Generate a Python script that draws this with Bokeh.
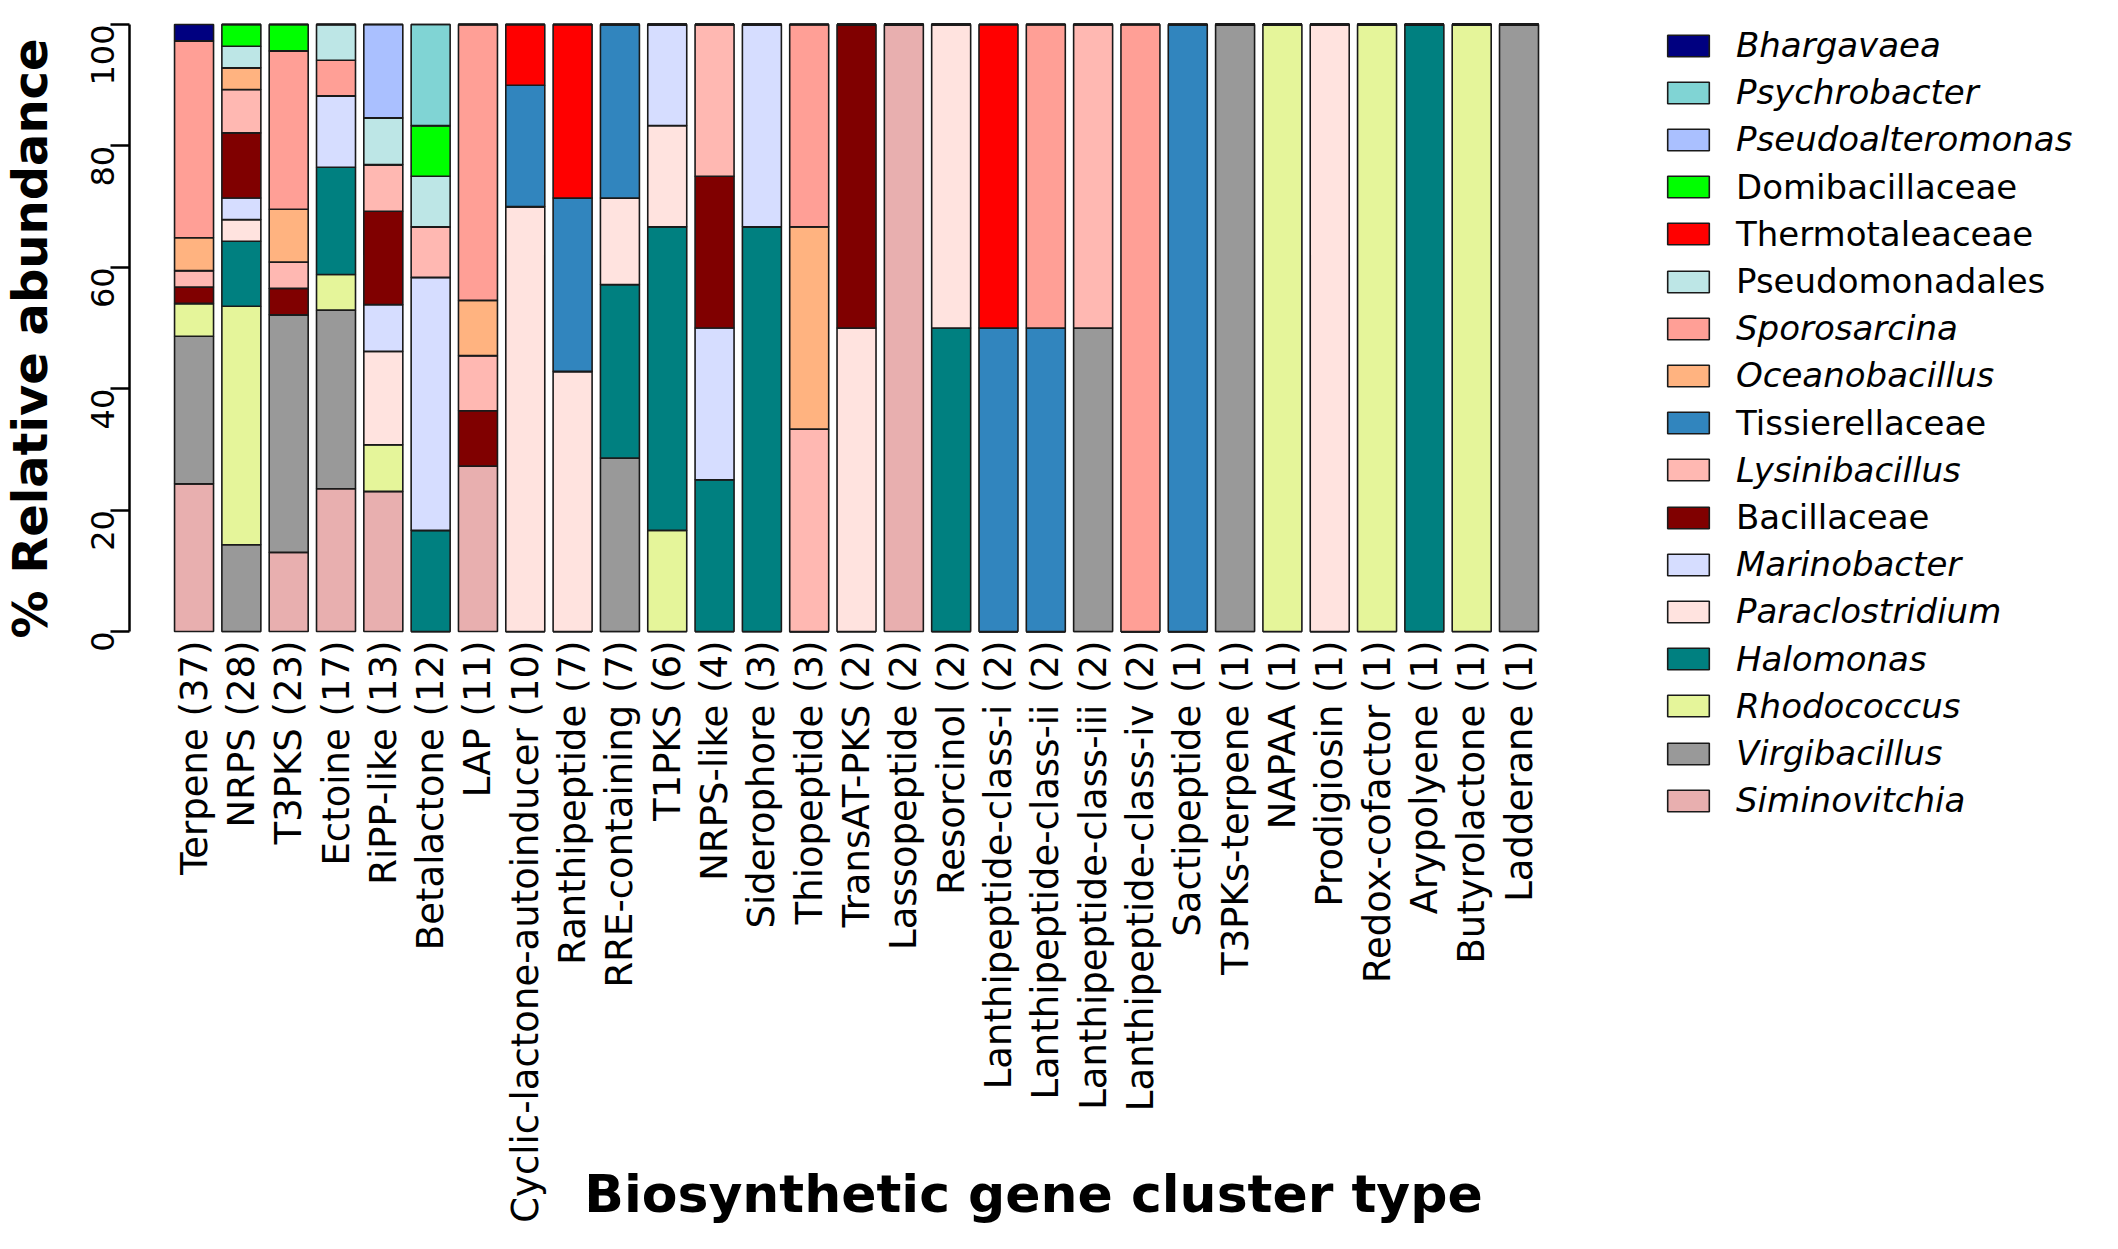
import math
import pandas as pd
from bokeh.plotting import figure
from bokeh.models import (ColumnDataSource, Range1d, FixedTicker,
                          Legend, LegendItem, Label)
from bokeh.core.properties import value
from bokeh.embed import file_html
from bokeh.resources import INLINE

# ---------------- data (counts of BGCs per taxon) ----------------
categories = [
    "Terpene (37)", "NRPS (28)", "T3PKS (23)", "Ectoine (17)", "RiPP-like (13)",
    "Betalactone (12)", "LAP (11)", "Cyclic-lactone-autoinducer (10)",
    "Ranthipeptide (7)", "RRE-containing (7)", "T1PKS (6)", "NRPS-like (4)",
    "Siderophore (3)", "Thiopeptide (3)", "TransAT-PKS (2)", "Lassopeptide (2)",
    "Resorcinol (2)", "Lanthipeptide-class-i (2)", "Lanthipeptide-class-ii (2)",
    "Lanthipeptide-class-iii (2)", "Lanthipeptide-class-iv (2)", "Sactipeptide (1)",
    "T3PKs-terpene (1)", "NAPAA (1)", "Prodigiosin (1)", "Redox-cofactor (1)",
    "Arypolyene (1)", "Butyrolactone (1)", "Ladderane (1)",
]

#                  Ter NRP T3P Ect RiP Bet LAP Cyc Ran RRE T1P NRl Sid Thi TrA Las Res Li Lii Liii Liv Sac T3t NAP Pro Red Ary But Lad
Siminovitchia    = [9, 0, 3, 4, 3, 0, 3, 0, 0, 0, 0, 0, 0, 0, 0, 2, 0, 0, 0, 0, 0, 0, 0, 0, 0, 0, 0, 0, 0]
Virgibacillus    = [9, 4, 9, 5, 0, 0, 0, 0, 0, 2, 0, 0, 0, 0, 0, 0, 0, 0, 0, 1, 0, 0, 1, 0, 0, 0, 0, 0, 1]
Rhodococcus      = [2, 11, 0, 1, 1, 0, 0, 0, 0, 0, 1, 0, 0, 0, 0, 0, 0, 0, 0, 0, 0, 0, 0, 1, 0, 1, 0, 1, 0]
Halomonas        = [0, 3, 0, 3, 0, 2, 0, 0, 0, 2, 3, 1, 2, 0, 0, 0, 1, 0, 0, 0, 0, 0, 0, 0, 0, 0, 1, 0, 0]
Paraclostridium  = [0, 1, 0, 0, 2, 0, 0, 7, 3, 1, 1, 0, 0, 0, 1, 0, 1, 0, 0, 0, 0, 0, 0, 0, 1, 0, 0, 0, 0]
Marinobacter     = [0, 1, 0, 2, 1, 5, 0, 0, 0, 0, 1, 1, 1, 0, 0, 0, 0, 0, 0, 0, 0, 0, 0, 0, 0, 0, 0, 0, 0]
Bacillaceae      = [1, 3, 1, 0, 2, 0, 1, 0, 0, 0, 0, 1, 0, 0, 1, 0, 0, 0, 0, 0, 0, 0, 0, 0, 0, 0, 0, 0, 0]
Lysinibacillus   = [1, 2, 1, 0, 1, 1, 1, 0, 0, 0, 0, 1, 0, 1, 0, 0, 0, 0, 0, 1, 0, 0, 0, 0, 0, 0, 0, 0, 0]
Tissierellaceae  = [0, 0, 0, 0, 0, 0, 0, 2, 2, 2, 0, 0, 0, 0, 0, 0, 0, 1, 1, 0, 0, 1, 0, 0, 0, 0, 0, 0, 0]
Oceanobacillus   = [2, 1, 2, 0, 0, 0, 1, 0, 0, 0, 0, 0, 0, 1, 0, 0, 0, 0, 0, 0, 0, 0, 0, 0, 0, 0, 0, 0, 0]
Sporosarcina     = [12, 0, 6, 1, 0, 0, 5, 0, 0, 0, 0, 0, 0, 1, 0, 0, 0, 0, 1, 0, 2, 0, 0, 0, 0, 0, 0, 0, 0]
Pseudomonadales  = [0, 1, 0, 1, 1, 1, 0, 0, 0, 0, 0, 0, 0, 0, 0, 0, 0, 0, 0, 0, 0, 0, 0, 0, 0, 0, 0, 0, 0]
Thermotaleaceae  = [0, 0, 0, 0, 0, 0, 0, 1, 2, 0, 0, 0, 0, 0, 0, 0, 0, 1, 0, 0, 0, 0, 0, 0, 0, 0, 0, 0, 0]
Domibacillaceae  = [0, 1, 1, 0, 0, 1, 0, 0, 0, 0, 0, 0, 0, 0, 0, 0, 0, 0, 0, 0, 0, 0, 0, 0, 0, 0, 0, 0, 0]
Pseudoalteromonas = [0, 0, 0, 0, 2, 0, 0, 0, 0, 0, 0, 0, 0, 0, 0, 0, 0, 0, 0, 0, 0, 0, 0, 0, 0, 0, 0, 0, 0]
Psychrobacter    = [0, 0, 0, 0, 0, 2, 0, 0, 0, 0, 0, 0, 0, 0, 0, 0, 0, 0, 0, 0, 0, 0, 0, 0, 0, 0, 0, 0, 0]
Bhargavaea       = [1, 0, 0, 0, 0, 0, 0, 0, 0, 0, 0, 0, 0, 0, 0, 0, 0, 0, 0, 0, 0, 0, 0, 0, 0, 0, 0, 0, 0]

# stacking order, bottom -> top: (name, counts, colour, italic)
taxa = [
    ("Siminovitchia", Siminovitchia, "#E8AFAF", True),
    ("Virgibacillus", Virgibacillus, "#999999", True),
    ("Rhodococcus", Rhodococcus, "#E5F59A", True),
    ("Halomonas", Halomonas, "#008080", True),
    ("Paraclostridium", Paraclostridium, "#FFE3DF", True),
    ("Marinobacter", Marinobacter, "#D6DDFF", True),
    ("Bacillaceae", Bacillaceae, "#800000", False),
    ("Lysinibacillus", Lysinibacillus, "#FFB8B2", True),
    ("Tissierellaceae", Tissierellaceae, "#3185BE", False),
    ("Oceanobacillus", Oceanobacillus, "#FFB380", True),
    ("Sporosarcina", Sporosarcina, "#FF9F96", True),
    ("Pseudomonadales", Pseudomonadales, "#BDE6E6", False),
    ("Thermotaleaceae", Thermotaleaceae, "#FF0000", False),
    ("Domibacillaceae", Domibacillaceae, "#00FF00", False),
    ("Pseudoalteromonas", Pseudoalteromonas, "#AAC0FF", True),
    ("Psychrobacter", Psychrobacter, "#80D4D4", True),
    ("Bhargavaea", Bhargavaea, "#000080", True),
]

names = [t[0] for t in taxa]
colors = [t[2] for t in taxa]

df = pd.DataFrame({t[0]: t[1] for t in taxa}, index=categories)
totals = df.sum(axis=1)
pct = df.div(totals, axis=0) * 100.0
xpos = list(range(len(categories)))
data = {"x": xpos, "cat": categories, "base": [0.0] * len(categories)}
for n in names:
    data[n] = pct[n].tolist()
source = ColumnDataSource(data)

# ---------------- geometry (pixels) ----------------
FONT = "DejaVu Sans"
FRAME_W, FRAME_H = 2100, 1233
AXIS_X_PX = 129                # y-axis line position in px from left
TOP100_PX = 24                 # px from top where y = 100
PITCH = 47.32                  # px per category
PX_PER_PCT = 607 / 100.0       # px per percent
x_axis_pos = -1.364
x0 = x_axis_pos - AXIS_X_PX / PITCH
x1 = x0 + FRAME_W / PITCH
y1 = 100.0 + TOP100_PX / PX_PER_PCT
y0 = y1 - FRAME_H / PX_PER_PCT

p = figure(
    x_range=Range1d(x0, x1), y_range=Range1d(y0, y1),
    frame_width=FRAME_W, frame_height=FRAME_H,
    min_border_left=0, min_border_top=0, min_border_right=0,
    min_border_bottom=0,
    output_backend="svg", toolbar_location=None,
)
p.background_fill_color = "white"
p.border_fill_color = "white"
p.outline_line_color = None
p.xgrid.visible = False
p.ygrid.visible = False
p.xaxis.visible = False

renderers = p.vbar_stack(
    names, x="x", width=0.824, source=source,
    fill_color=colors, line_color="#1a1a1a", line_width=1.6,
)

# category labels under the bars, reading bottom-to-top
p.text(x="x", y="base", text="cat", source=source, angle=math.pi / 2,
       text_align="right", text_baseline="middle", y_offset=9,
       text_font=value(FONT), text_font_size="37px", text_color="black")

# y axis limited to 0..100, placed at a fixed x inside the frame
ya = p.yaxis[0]
ya.fixed_location = x_axis_pos
ya.bounds = (0, 100)
ya.ticker = FixedTicker(ticks=[0, 20, 40, 60, 80, 100])
ya.axis_line_width = 2.5
ya.axis_line_color = "black"
ya.major_tick_line_width = 2.5
ya.major_tick_line_color = "black"
ya.major_tick_out = 19
ya.major_tick_in = 0
ya.minor_tick_line_color = None
ya.major_label_orientation = math.pi / 2
ya.major_label_text_font = FONT
ya.major_label_text_font_size = "32px"
ya.major_label_text_color = "black"
ya.major_label_standoff = 8

# y title
p.add_layout(Label(
    x=29, y=FRAME_H - 338, x_units="screen", y_units="screen",
    text="% Relative abundance", angle=math.pi / 2,
    text_align="center", text_baseline="middle",
    text_font=FONT, text_font_style="bold", text_font_size="48px",
    text_color="black",
))

# x title beside the long category labels
p.add_layout(Label(
    x=1033, y=40, x_units="screen", y_units="screen",
    text="Biosynthetic gene cluster type", text_align="center",
    text_baseline="middle", text_font=FONT, text_font_style="bold",
    text_font_size="52px", text_color="black",
))

# legend: one entry per row (top -> bottom)
row_h = 40
for k, idx in enumerate(range(len(taxa) - 1, -1, -1)):
    name, _, _, italic = taxa[idx]
    yc = 45 + 47.2 * k              # row centre, px from top
    up = FRAME_H - yc               # distance above frame bottom
    lg = Legend(
        items=[LegendItem(label=name, renderers=[renderers[idx]])],
        location=(1662, up - row_h / 2),
        orientation="vertical",
        glyph_width=52, glyph_height=27, label_height=27,
        label_standoff=22, spacing=0, padding=0, margin=0,
        border_line_color=None, background_fill_alpha=0.0,
        label_text_font=FONT, label_text_font_size="34px",
        label_text_font_style="italic" if italic else "normal",
        label_text_color="black",
    )
    p.add_layout(lg)

open("out.html", "w").write(file_html(p, INLINE))
